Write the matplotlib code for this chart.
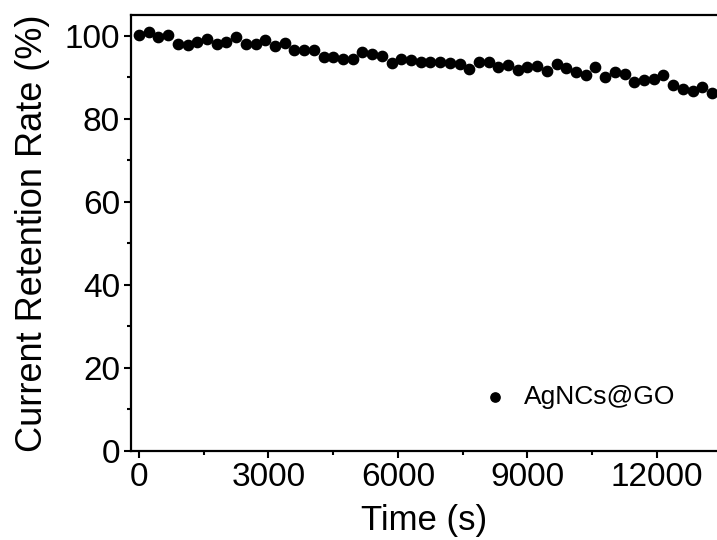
import numpy as np
import matplotlib
matplotlib.use("Agg")
import matplotlib.pyplot as plt
from matplotlib.ticker import MultipleLocator

plt.rcParams['font.family'] = ['Liberation Sans', 'DejaVu Sans']

# Данные: время (с) и удержание тока (%)
step = 225
time_s = np.arange(60) * step
retention = [
    100.2, 100.9, 99.6, 100.3, 98.1, 97.8, 98.5, 99.3, 98.1, 98.6,
    99.6, 97.9, 98.0, 98.9, 97.6, 98.2, 96.6, 96.6, 96.5, 95.0,
    95.0, 94.5, 94.3, 96.1, 95.6, 95.2, 93.4, 94.5, 94.1, 93.7,
    93.6, 93.8, 93.4, 93.2, 92.0, 93.6, 93.6, 92.4, 92.9, 91.7,
    92.5, 92.8, 91.5, 93.2, 92.2, 91.3, 90.6, 92.4, 90.0, 91.2,
    90.8, 88.8, 89.3, 89.7, 90.5, 88.2, 87.1, 86.6, 87.7, 86.1,
]
series_label = "AgNCs@GO"

fig = plt.figure(figsize=(7.17, 5.40), dpi=100)
ax = fig.add_axes([0.1827, 0.1648, 0.8173, 0.8074])

ax.scatter(time_s, retention, s=55, color='black', label=series_label, zorder=3)

ax.set_xlim(-185, 13390)
ax.set_ylim(0, 105)
ax.xaxis.set_major_locator(MultipleLocator(3000))
ax.xaxis.set_minor_locator(MultipleLocator(1500))
ax.yaxis.set_major_locator(MultipleLocator(20))
ax.yaxis.set_minor_locator(MultipleLocator(10))

for side in ['left', 'bottom', 'top']:
    ax.spines[side].set_linewidth(1.6)
ax.spines['right'].set_visible(False)

ax.tick_params(which='major', direction='out', length=5, width=1.5,
               labelsize=24, pad=3)
ax.tick_params(which='minor', direction='out', length=3, width=1.5)

ax.set_xlabel("Time (s)", fontsize=25, labelpad=8)
ax.set_ylabel("Current Retention Rate (%)", fontsize=26, labelpad=10)

ax.legend(loc='center left', bbox_to_anchor=(0.535, 0.124), frameon=False,
          fontsize=19, handletextpad=0.1, markerscale=0.9)

fig.savefig("out.png", dpi=100)
